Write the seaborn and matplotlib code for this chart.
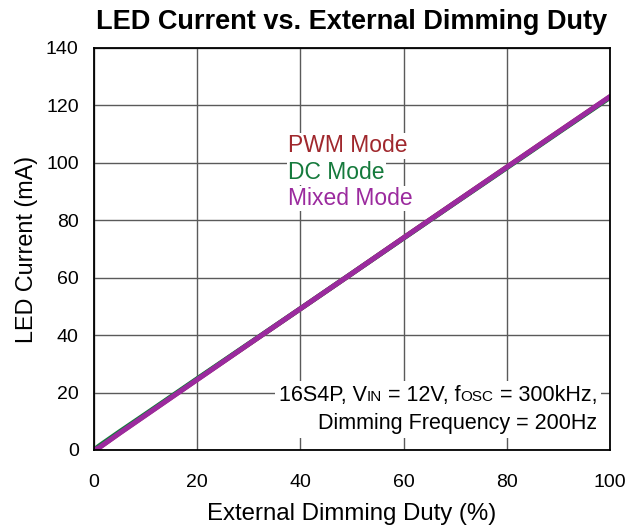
import numpy as np
import pandas as pd
import matplotlib.pyplot as plt
import seaborn as sns
from matplotlib.offsetbox import TextArea, HPacker, VPacker, AnchoredOffsetbox

# values
duty = [0, 1, 5, 10, 20, 30, 40, 50, 60, 70, 80, 90, 100]
pwm_current = [0, 0.9, 6.0, 12.2, 24.6, 36.9, 49.2, 61.5, 73.9, 86.2, 98.5, 110.8, 123.0]
dc_current = [0, 1.4, 6.4, 12.5, 24.8, 37.0, 49.2, 61.5, 73.8, 86.1, 98.3, 110.6, 122.8]
mixed_current = [0, 0.8, 5.9, 12.1, 24.5, 36.9, 49.2, 61.5, 73.9, 86.2, 98.5, 110.8, 123.1]

modes = ["PWM Mode", "DC Mode", "Mixed Mode"]
colors = {"PWM Mode": "#a0282d", "DC Mode": "#157a3c", "Mixed Mode": "#9b2a9e"}

df = pd.concat([
    pd.DataFrame({"duty": duty, "current": pwm_current, "mode": "PWM Mode"}),
    pd.DataFrame({"duty": duty, "current": dc_current, "mode": "DC Mode"}),
    pd.DataFrame({"duty": duty, "current": mixed_current, "mode": "Mixed Mode"}),
])

sns.set_style("white")
plt.rcParams['font.family'] = ['Liberation Sans', 'DejaVu Sans']
plt.rcParams['text.color'] = 'black'
plt.rcParams['axes.labelcolor'] = 'black'
plt.rcParams['xtick.color'] = 'black'
plt.rcParams['ytick.color'] = 'black'

fig = plt.figure(figsize=(6.26, 5.31), dpi=100)
ax = fig.add_axes([94 / 626, 81 / 531, 516 / 626, 402 / 531])

sns.lineplot(data=df, x="duty", y="current", hue="mode", hue_order=modes,
             palette=colors, linewidth=3.6, legend=False, ax=ax)

ax.set_xlim(0, 100)
ax.set_ylim(0, 140)
ax.set_xticks(range(0, 101, 20))
ax.set_yticks(range(0, 141, 20))
ax.grid(True, color="#5a5a5a", linewidth=1)
ax.set_axisbelow(True)
for s in ax.spines.values():
    s.set_color("black")
    s.set_linewidth(1.3)
ax.tick_params(labelsize=14, direction="in", length=5, width=1.2)
ax.tick_params(axis="x", pad=17)
ax.tick_params(axis="y", pad=11)

ax.set_xlabel("External Dimming Duty (%)", fontsize=17.3, labelpad=9)
ax.set_ylabel("LED Current (mA)", fontsize=16.8, labelpad=6)
ax.set_title("LED Current vs. External Dimming Duty", fontsize=19.5,
             fontweight="bold", pad=14)

box = dict(facecolor="white", edgecolor="none", pad=1)
for i, m in enumerate(modes):
    ax.text(37.6, 106 - i * 9.2, m, color=colors[m], fontsize=16.5,
            ha="left", va="center", bbox=box)


def ta(s, size):
    return TextArea(s, textprops=dict(fontsize=size, color="black"))


line1 = HPacker(children=[ta("16S4P, V", 15.5), ta("IN", 11), ta(" = 12V, f", 15.5),
                          ta("OSC", 11), ta(" = 300kHz,", 15.5)],
                align="baseline", pad=0, sep=0)
line2 = HPacker(children=[ta("Dimming Frequency = 200Hz", 15.5)],
                align="baseline", pad=0, sep=0)
note = VPacker(children=[line1, line2], align="right", pad=0, sep=5)
anchored = AnchoredOffsetbox(loc="lower right", child=note, pad=0.3, borderpad=0,
                             frameon=True, bbox_to_anchor=(0.983, 0.03),
                             bbox_transform=ax.transAxes)
anchored.patch.set_facecolor("white")
anchored.patch.set_edgecolor("none")
ax.add_artist(anchored)

fig.savefig("out.png", dpi=100)
